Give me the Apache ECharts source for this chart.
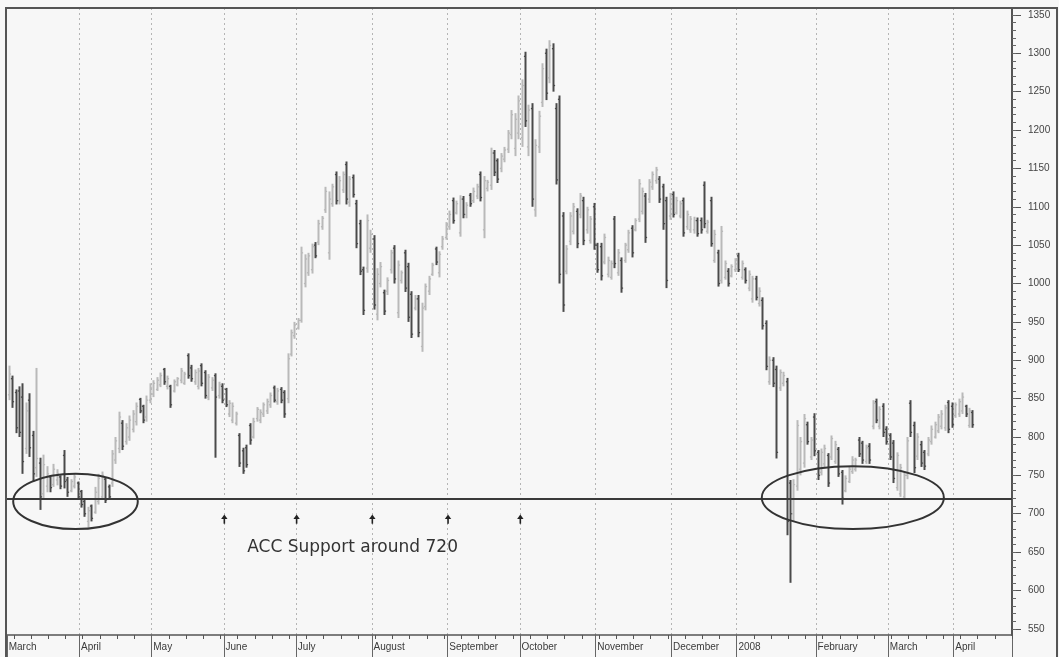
<!DOCTYPE html>
<html><head><meta charset="utf-8">
<script src="https://cdn.jsdelivr.net/npm/echarts@6/dist/echarts.min.js"></script>
<style>html,body{margin:0;padding:0;background:#f7f7f7}#c{width:1059px;height:657px}</style>
</head><body><div id="c"></div><script>
// Month labels shown on the x axis (one per month block below)
const monthLabels = ['March','April','May','June','July','August','September','October','November','December','2008','February','March','April'];
// Daily bars: [open, high, low, close]
const mar07 = [[855,893,848,882],[876,880,838,846],[858,862,805,812],[860,866,800,806],[852,870,752,768],[785,845,778,834],[848,857,774,786],[802,808,742,752],[760,890,748,772],[766,773,705,722],[726,777,720,764],[736,762,728,752],[748,750,728,734],[738,765,735,758],[744,758,737,752],[748,750,732,736],[776,783,733,742],[744,748,722,728],[730,745,728,742],[736,752,733,748],[740,742,718,722]];
const apr07 = [[729,731,708,712],[716,718,696,700],[690,709,682,704],[710,712,690,694],[702,735,700,728],[716,752,712,746],[722,755,718,750],[745,747,714,718],[735,738,718,722],[740,783,735,778],[770,800,765,795],[785,833,779,826],[818,822,783,788],[794,818,790,812],[800,828,795,822],[810,835,806,830],[820,845,815,840],[849,851,831,834],[840,842,818,822],[826,854,820,848],[848,870,844,864]];
const may07 = [[856,874,852,870],[862,878,860,874],[868,884,865,880],[888,890,868,872],[866,880,862,876],[866,868,838,842],[860,875,858,872],[868,878,866,876],[874,890,870,886],[870,885,868,882],[906,909,876,880],[890,894,872,876],[872,888,868,884],[866,890,862,886],[893,896,866,870],[884,887,850,854],[852,882,848,878],[864,878,860,874],[880,883,773,852],[854,872,850,868],[866,870,844,848]];
const jun07 = [[862,864,839,842],[830,848,826,844],[822,845,818,840],[818,833,815,830],[802,805,761,766],[782,786,752,756],[786,790,760,764],[815,818,790,796],[800,825,798,820],[824,839,820,836],[822,836,818,832],[830,845,826,842],[834,850,830,846],[842,858,838,854],[864,867,845,848],[846,864,842,860],[862,865,844,848],[858,861,825,830],[850,909,844,902],[908,940,905,936],[932,950,928,946]];
const jul07 = [[942,955,940,952],[952,1048,949,1040],[1000,1038,995,1032],[1014,1040,1010,1036],[1018,1052,1013,1048],[1050,1054,1033,1036],[1054,1083,1050,1078],[1074,1088,1070,1085],[1096,1126,1092,1120],[1040,1120,1031,1110],[1104,1130,1100,1126],[1142,1146,1103,1108],[1108,1140,1103,1134],[1122,1146,1118,1142],[1155,1159,1103,1110],[1106,1140,1100,1136],[1138,1142,1112,1116],[1104,1109,1046,1052],[1078,1083,1011,1016],[1018,1022,959,965],[1020,1090,1014,1082],[1046,1070,1040,1064]];
const aug07 = [[1058,1063,966,972],[960,1020,952,1012],[1000,1028,995,1022],[988,992,959,964],[990,1008,985,1004],[1018,1044,1013,1040],[1046,1050,1000,1006],[962,1030,955,1024],[1004,1017,1000,1014],[1040,1044,989,994],[1022,1027,950,956],[986,990,929,934],[968,985,965,980],[980,985,930,936],[918,975,911,968],[970,1000,965,996],[990,1010,985,1006],[1012,1027,1010,1024],[1045,1048,1024,1028],[1014,1042,1008,1038],[1048,1062,1044,1058],[1060,1080,1057,1076]];
const sep07 = [[1074,1095,1070,1090],[1108,1112,1078,1082],[1092,1108,1090,1104],[1066,1115,1061,1110],[1110,1114,1085,1090],[1090,1106,1085,1102],[1115,1118,1100,1104],[1108,1125,1105,1120],[1114,1130,1110,1126],[1142,1146,1107,1112],[1070,1140,1059,1134],[1124,1135,1120,1132],[1128,1177,1122,1170],[1170,1174,1140,1145],[1160,1163,1131,1136],[1150,1170,1145,1166],[1162,1178,1158,1174],[1175,1200,1170,1196],[1194,1226,1188,1220],[1176,1222,1166,1214],[1196,1245,1188,1238]];
const oct07 = [[1190,1266,1178,1258],[1296,1302,1204,1212],[1178,1233,1166,1226],[1228,1235,1100,1110],[1096,1188,1087,1180],[1178,1225,1170,1218],[1236,1287,1230,1280],[1300,1306,1239,1248],[1268,1317,1261,1310],[1306,1313,1250,1258],[1228,1235,1129,1135],[1240,1245,1000,1012],[1088,1093,963,972],[1016,1050,1012,1045],[1055,1093,1050,1088],[1068,1105,1064,1100],[1094,1098,1046,1052],[1090,1118,1085,1114],[1108,1113,1050,1056],[1070,1100,1065,1096],[1056,1088,1052,1084],[1100,1105,1044,1050]];
const nov07 = [[1050,1053,1014,1018],[1048,1053,1004,1010],[1028,1065,1025,1060],[1012,1035,1008,1030],[1008,1030,1005,1026],[1084,1088,1020,1026],[1014,1045,1010,1040],[1030,1034,988,994],[1030,1053,1027,1050],[1044,1070,1040,1066],[1072,1076,1034,1040],[1070,1085,1068,1082],[1084,1136,1080,1130],[1094,1125,1090,1120],[1114,1118,1053,1060],[1110,1136,1105,1132],[1126,1146,1122,1142],[1134,1152,1130,1148],[1136,1140,1105,1110],[1126,1130,1070,1078],[1108,1113,994,1004],[1088,1118,1083,1114]];
const dec07 = [[1116,1120,1086,1090],[1092,1113,1090,1108],[1088,1108,1085,1104],[1108,1112,1061,1066],[1074,1095,1070,1090],[1070,1088,1066,1084],[1070,1087,1065,1082],[1082,1086,1061,1065],[1082,1086,1065,1070],[1128,1133,1072,1078],[1068,1083,1065,1080],[1108,1113,1048,1052],[1030,1070,1027,1064],[1040,1044,996,1000],[1004,1075,1000,1068],[1008,1030,1005,1026],[1016,1020,996,1000],[1010,1025,1008,1022],[1018,1033,1015,1030]];
const jan08 = [[1036,1040,1015,1018],[1008,1030,1005,1026],[1018,1021,1000,1004],[994,1017,990,1012],[980,1010,975,1006],[1006,1010,978,982],[974,995,970,990],[978,982,940,945],[948,952,887,892],[872,905,868,900],[900,904,865,870],[888,893,772,780],[864,888,860,884],[870,885,866,880],[872,877,672,690],[740,744,610,700],[700,745,690,738],[736,822,730,815],[758,800,750,794],[766,830,760,824],[816,820,790,794],[774,800,770,796],[826,831,775,782]];
const feb08 = [[780,783,744,750],[754,785,750,780],[765,790,760,785],[776,779,735,740],[774,802,770,798],[768,795,765,790],[784,787,748,752],[754,757,712,720],[730,750,728,746],[742,762,740,758],[755,775,752,770],[758,773,755,770],[796,800,774,778],[792,795,765,770],[768,790,765,786],[788,792,765,770],[814,848,810,844],[846,850,818,822],[814,840,810,836],[840,844,800,806],[810,814,790,794]];
const mar08 = [[802,805,770,774],[792,796,740,746],[734,780,730,776],[726,765,722,760],[722,755,718,750],[750,800,745,795],[844,848,800,806],[815,820,753,760],[775,805,770,800],[790,795,761,766],[780,783,757,762],[778,800,775,796],[794,815,790,810],[800,820,798,816],[808,830,805,826],[814,835,810,830],[812,842,808,838],[845,848,805,810],[840,845,812,816]];
const apr08 = [[828,845,825,842],[830,850,826,846],[834,858,830,852],[840,842,826,830],[815,838,812,834],[832,835,812,816]];
const emptyAprilDays = 11;
// Y axis tick labels
const yTickLabels = [550,600,650,700,750,800,850,900,950,1000,1050,1100,1150,1200,1250,1300,1350];
const yMin = 542, yMax = 1359, yMinorStep = 10;
const supportLevel = 720;
const noteText = 'ACC Support around 720';

const monthBars = [mar07,apr07,may07,jun07,jul07,aug07,sep07,oct07,nov07,dec07,jan08,feb08,mar08,apr08];
const categories = [];
const bars = [];
const monthStartIdx = [];
monthBars.forEach((m, mi) => {
  monthStartIdx.push(categories.length);
  m.forEach((b, di) => {
    bars.push([categories.length, b[0], b[1], b[2], b[3]]);
    categories.push(monthLabels[mi] + ' ' + (di + 1));
  });
});
for (let k = 0; k < emptyAprilDays; k++) categories.push('April ' + (apr08.length + k + 1));
const isMonthStart = i => monthStartIdx.indexOf(i) >= 0;
const labelOf = {};
monthStartIdx.forEach((idx, mi) => { labelOf[idx] = monthLabels[mi]; });
const yMinor = [];
for (let v = 550; v <= 1350; v += yMinorStep) yMinor.push(v);

const chart = echarts.init(document.getElementById('c'), null, {renderer: 'canvas'});
const FONT = '"Liberation Sans", Arial, sans-serif';

function renderItem(params, api) {
  const i = api.value(0);
  const pO = api.coord([i, api.value(1)]);
  const pH = api.coord([i, api.value(2)]);
  const pL = api.coord([i, api.value(3)]);
  const pC = api.coord([i, api.value(4)]);
  const down = api.value(4) < api.value(1);
  const col = down ? '#4a4a4a' : '#b9b9b9';
  const x = Math.round(pH[0]) + 0.5;
  const t = 1.6;
  return {type: 'group', children: [
    {type: 'line', shape: {x1: x, y1: pH[1], x2: x, y2: pL[1]}, style: {stroke: col, lineWidth: 2}},
    {type: 'line', shape: {x1: x - t, y1: pO[1], x2: x, y2: pO[1]}, style: {stroke: col, lineWidth: 1.3}},
    {type: 'line', shape: {x1: x, y1: pC[1], x2: x + t, y2: pC[1]}, style: {stroke: col, lineWidth: 1.3}}
  ]};
}

const option = {
  animation: false,
  backgroundColor: '#f7f7f7',
  grid: {left: 7, right: 47, top: 8, bottom: 22, containLabel: false, outerBoundsMode: 'none'},
  xAxis: [{
    type: 'category', data: categories, boundaryGap: true, position: 'bottom',
    axisLine: {show: true, onZero: false, lineStyle: {color: '#555', width: 1.5}},
    axisTick: {show: true, interval: (i) => isMonthStart(i), length: 22, lineStyle: {color: '#666', width: 1}},
    axisLabel: {show: true, interval: (i) => isMonthStart(i), formatter: (v, i) => labelOf[i] || '',
      align: 'left', margin: 7, fontSize: 10, color: '#3a3a3a', fontFamily: FONT},
    splitLine: {show: true, interval: (i) => isMonthStart(i) && i > 0, lineStyle: {color: '#b5b5b5', width: 1, type: [2, 3]}}
  }, {
    type: 'category', data: categories, boundaryGap: true, position: 'bottom',
    axisLine: {show: false},
    axisTick: {show: true, interval: (i) => i >= 2 && (i - 2) % 5 === 0 && !isMonthStart(i), length: 4, lineStyle: {color: '#555', width: 1}},
    axisLabel: {show: false}, splitLine: {show: false}
  }],
  yAxis: [{
    type: 'value', position: 'right', min: yMin, max: yMax, scale: true,
    axisLine: {show: true, lineStyle: {color: '#555', width: 2}},
    axisTick: {show: true, customValues: yTickLabels, length: 9, lineStyle: {color: '#555', width: 1}},
    axisLabel: {show: true, customValues: yTickLabels, formatter: v => String(v), margin: 16, fontSize: 10, color: '#444', fontFamily: FONT, align: 'left'},
    splitLine: {show: false}
  }, {
    type: 'value', position: 'right', min: yMin, max: yMax, scale: true,
    axisLine: {show: false},
    axisTick: {show: true, customValues: yMinor, length: 4, lineStyle: {color: '#666', width: 1}},
    axisLabel: {show: false}, splitLine: {show: false}
  }],
  series: [{
    type: 'custom', name: 'ACC', xAxisIndex: 0, yAxisIndex: 0,
    renderItem: renderItem,
    encode: {x: 0, y: [1, 2, 3, 4]},
    data: bars,
    markLine: {
      silent: true, symbol: ['none', 'none'], label: {show: false},
      lineStyle: {color: '#3a3a3a', width: 2, type: 'solid'},
      data: [{yAxis: supportLevel}]
    }
  }]
};
chart.setOption(option);

// Annotations anchored to axis positions
const c0 = chart.convertToPixel({xAxisIndex: 0}, 0);
const c1 = chart.convertToPixel({xAxisIndex: 0}, 1);
const bw = c1 - c0;
const x0 = c0 - bw / 2;
const xAt = k => x0 + bw * k;           // k = band boundary position
const yAt = v => chart.convertToPixel({yAxisIndex: 0}, v);

function ellipse(k1, k2, vTop, vBot) {
  const l = xAt(k1), r = xAt(k2), t = yAt(vTop), b = yAt(vBot);
  return {type: 'ellipse', shape: {cx: (l + r) / 2, cy: (t + b) / 2, rx: (r - l) / 2, ry: (b - t) / 2},
    style: {fill: null, stroke: '#333', lineWidth: 2}, z: 100};
}
function arrow(k) {
  const x = xAt(k) + 0.5;
  const tip = yAt(699), base = yAt(693), end = yAt(687);
  return [
    {type: 'polygon', shape: {points: [[x, tip], [x - 3.2, base], [x + 3.2, base]]}, style: {fill: '#222'}, z: 100},
    {type: 'line', shape: {x1: x, y1: base - 1, x2: x, y2: end}, style: {stroke: '#222', lineWidth: 1.6}, z: 100}
  ];
}
const arrowMonths = [3, 4, 5, 6, 7];
const els = [
  // outer frame
  {type: 'polyline', shape: {points: [[6, 657], [6, 8], [1057, 8], [1057, 657]]}, style: {stroke: '#555', lineWidth: 2, fill: null}, z: 100},
  ellipse(1.8, 38, 752, 680),
  ellipse(219.3, 272.2, 762, 680),
  {type: 'text', x: xAt(69.8), y: yAt(655.5), style: {text: noteText, font: '17px "DejaVu Sans", sans-serif', fill: '#333', verticalAlign: 'middle', align: 'left'}, z: 100}
];
arrowMonths.forEach(mi => { arrow(monthStartIdx[mi]).forEach(e => els.push(e)); });
chart.setOption({graphic: {elements: els}});
</script></body></html>
